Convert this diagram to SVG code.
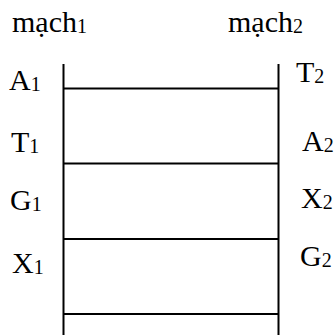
<svg xmlns="http://www.w3.org/2000/svg" width="335" height="335" viewBox="0 0 335 335">
<style>
text{font-family:"Liberation Serif","Times New Roman",serif;font-size:30px;fill:#000}
.s{font-size:20px}
line{stroke:#000;stroke-width:2}
</style>
<rect width="335" height="335" fill="#fff"/>
<g id="connectors">
<line x1="63.5" y1="64" x2="63.5" y2="335"/>
<line x1="278.5" y1="64" x2="278.5" y2="335"/>
<line x1="63.5" y1="88.5" x2="278.5" y2="88.5"/>
<line x1="63.5" y1="163.5" x2="278.5" y2="163.5"/>
<line x1="63.5" y1="239" x2="278.5" y2="239"/>
<line x1="63.5" y1="314" x2="278.5" y2="314"/>
</g>
<g id="mach1"><text x="12" y="32">mạch<tspan class="s" dy="1">1</tspan></text></g>
<g id="mach2"><text x="228" y="32">mạch<tspan class="s" dy="1">2</tspan></text></g>
<g id="A1"><text x="9" y="90">A<tspan class="s" dy="1">1</tspan></text></g>
<g id="T2"><text x="296" y="82">T<tspan class="s" dy="1">2</tspan></text></g>
<g id="T1"><text x="11" y="152">T<tspan class="s" dy="1">1</tspan></text></g>
<g id="A2"><text x="302" y="151">A<tspan class="s" dy="1">2</tspan></text></g>
<g id="G1"><text x="10" y="210">G<tspan class="s" dy="1">1</tspan></text></g>
<g id="X2"><text x="301" y="208">X<tspan class="s" dy="1">2</tspan></text></g>
<g id="X1"><text x="12" y="273">X<tspan class="s" dy="1">1</tspan></text></g>
<g id="G2"><text x="300" y="266">G<tspan class="s" dy="1">2</tspan></text></g>
</svg>
